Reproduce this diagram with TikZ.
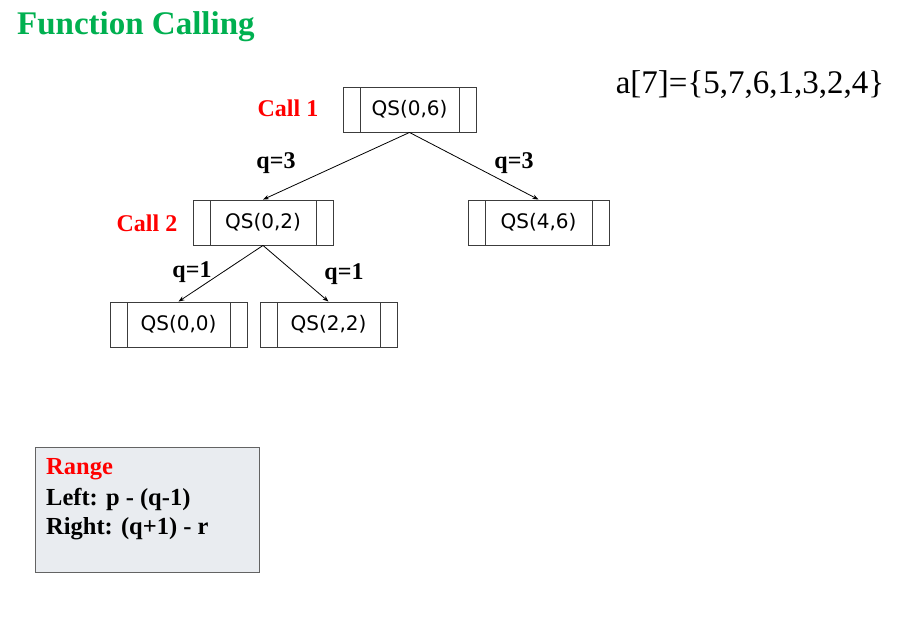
\documentclass[tikz,border=0pt]{standalone}
\usepackage{fontspec}
\setmainfont{Liberation Serif}
\newfontfamily\qsfont{DejaVu Sans}
\usetikzlibrary{arrows.meta}
\definecolor{titlegreen}{RGB}{0,176,80}
\definecolor{rangefill}{RGB}{233,236,240}
\definecolor{boxline}{RGB}{60,60,60}
\tikzset{
  qsbox/.style={draw=boxline, line width=0.9pt, rectangle, minimum width=#1, minimum height=45pt, inner sep=0pt,
    font=\qsfont\fontsize{20pt}{22pt}\selectfont,
    path picture={
      \draw[boxline, line width=0.9pt] ([xshift=17pt]path picture bounding box.north west) -- ([xshift=17pt]path picture bounding box.south west);
      \draw[boxline, line width=0.9pt] ([xshift=-17pt]path picture bounding box.north east) -- ([xshift=-17pt]path picture bounding box.south east);
    }},
  calllbl/.style={text=red, font=\bfseries\fontsize{24pt}{26pt}\selectfont, inner sep=0pt},
  qlbl/.style={text=black, font=\bfseries\fontsize{24pt}{26pt}\selectfont, inner sep=0pt},
  rangetxt/.style={anchor=west, inner sep=0pt, font=\bfseries\fontsize{24.5pt}{26pt}\selectfont},
  conn/.style={line width=0.8pt, -{Stealth[length=6pt,width=4.5pt]}}
}
\begin{document}
\begin{tikzpicture}[x=1pt,y=-1pt]
\useasboundingbox (0,0) rectangle (905,633);
\node[anchor=west, inner sep=0pt, text=titlegreen, font=\bfseries\fontsize{33pt}{35pt}\selectfont] (title) at (17,27) {Function Calling};
\node[inner sep=0pt, font=\fontsize{33pt}{35pt}\selectfont] (arr) at (750,85) {a[7]=\{5,7,6,1,3,2,4\}};

\node[qsbox=133pt] (a) at (409.5,109.5) {QS(0,6)};
\node[qsbox=140pt] (b) at (263,222.5) {QS(0,2)};
\node[qsbox=141pt] (c) at (538.5,222.5) {QS(4,6)};
\node[qsbox=137pt] (d) at (178.5,324.5) {QS(0,0)};
\node[qsbox=137pt] (e) at (328.5,324.5) {QS(2,2)};

\draw[conn] (a.south) -- (b.north);
\draw[conn] (a.south) -- (c.north);
\draw[conn] (b.south) -- (d.north);
\draw[conn] (b.south) -- (e.north);

\node[calllbl] (call1) at (288,108) {Call 1};
\node[calllbl] (call2) at (147,223) {Call 2};
\node[qlbl] (q1) at (276,163) {q=3};
\node[qlbl] (q2) at (514,163) {q=3};
\node[qlbl] (q3) at (192,272) {q=1};
\node[qlbl] (q4) at (344,274) {q=1};

\node[draw=boxline!80, line width=1pt, fill=rangefill, minimum width=224pt, minimum height=125pt, inner sep=0pt] (range) at (147,509.5) {};
\node[rangetxt, text=red] (r1) at (46,469) {Range};
\node[rangetxt] (r2) at (46,499) {Left: p - (q-1)};
\node[rangetxt] (r3) at (46,529) {Right: (q+1) - r};
\end{tikzpicture}
\end{document}
